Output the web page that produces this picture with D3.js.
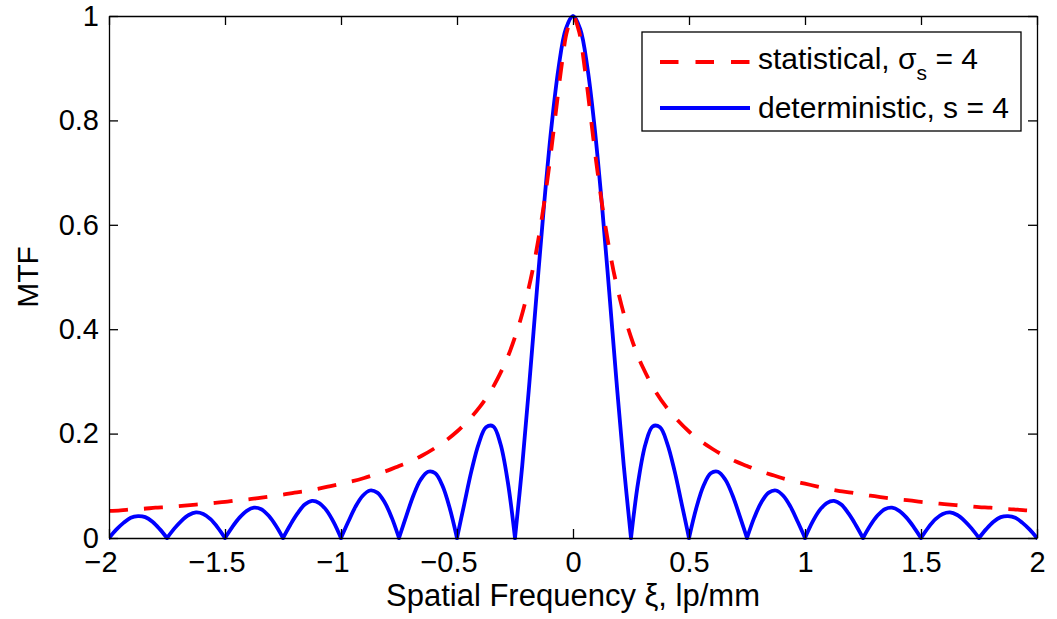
<!DOCTYPE html>
<html>
<head>
<meta charset="utf-8">
<script src="https://cdn.jsdelivr.net/npm/d3@7"></script>
<style>
  html, body { margin: 0; padding: 0; background: #fff; }
  svg { display: block; font-family: "Liberation Sans", Arial, Helvetica, sans-serif; }
</style>
</head>
<body>
<svg id="chart" width="1057" height="619"></svg>
<script>
// ── data ──
const xTicks = [-2, -1.5, -1, -0.5, 0, 0.5, 1, 1.5, 2];
const yTicks = [0, 0.2, 0.4, 0.6, 0.8, 1];

// statistical, sigma_s = 4 (red dashed)
const statXi = [-2,-1.95,-1.9,-1.85,-1.8,-1.75,-1.7,-1.65,-1.6,-1.55,-1.5,-1.45,-1.4,-1.35,-1.3,-1.25,-1.2,-1.15,-1.1,-1.05,
  -1,-0.95,-0.9,-0.85,-0.8,-0.75,-0.7,-0.65,-0.6,-0.55,-0.5,-0.45,-0.4,-0.35,-0.3,-0.275,-0.25,-0.225,-0.2,-0.175,-0.15,-0.125,
  -0.1,-0.075,-0.05,-0.025,0,0.025,0.05,0.075,0.1,0.125,0.15,0.175,0.2,0.225,0.25,0.275,0.3,0.35,0.4,0.45,0.5,0.55,0.6,0.65,
  0.7,0.75,0.8,0.85,0.9,0.95,1,1.05,1.1,1.15,1.2,1.25,1.3,1.35,1.4,1.45,1.5,1.55,1.6,1.65,1.7,1.75,1.8,1.85,1.9,1.95,2];
const statMtf = [0.052,0.053,0.055,0.056,0.058,0.059,0.061,0.063,0.065,0.067,0.069,0.072,0.074,0.077,0.080,0.083,0.087,0.090,0.094,0.099,
  0.104,0.109,0.115,0.122,0.129,0.138,0.147,0.158,0.171,0.186,0.204,0.226,0.252,0.285,0.328,0.354,0.385,0.420,0.462,0.511,0.570,0.640,
  0.721,0.812,0.902,0.972,1,0.972,0.902,0.812,0.721,0.640,0.570,0.511,0.462,0.420,0.385,0.354,0.328,0.285,0.252,0.226,0.204,0.186,0.171,0.158,
  0.147,0.138,0.129,0.122,0.115,0.109,0.104,0.099,0.094,0.090,0.087,0.083,0.080,0.077,0.074,0.072,0.069,0.067,0.065,0.063,0.061,0.059,0.058,0.056,0.055,0.053,0.052];

// deterministic, s = 4 (blue solid)
const detXi = [-2,-1.96875,-1.9375,-1.90625,-1.875,-1.84375,-1.8125,-1.78125,-1.75,-1.71875,-1.6875,-1.65625,-1.625,-1.59375,-1.5625,-1.53125,
  -1.5,-1.46875,-1.4375,-1.40625,-1.375,-1.34375,-1.3125,-1.28125,-1.25,-1.21875,-1.1875,-1.15625,-1.125,-1.09375,-1.0625,-1.03125,
  -1,-0.96875,-0.9375,-0.90625,-0.875,-0.84375,-0.8125,-0.78125,-0.75,-0.71875,-0.6875,-0.65625,-0.625,-0.59375,-0.5625,-0.53125,
  -0.5,-0.46875,-0.4375,-0.40625,-0.375,-0.34375,-0.3125,-0.28125,-0.25,-0.21875,-0.1875,-0.15625,-0.125,-0.09375,-0.0625,-0.03125,
  0,0.03125,0.0625,0.09375,0.125,0.15625,0.1875,0.21875,0.25,0.28125,0.3125,0.34375,0.375,0.40625,0.4375,0.46875,
  0.5,0.53125,0.5625,0.59375,0.625,0.65625,0.6875,0.71875,0.75,0.78125,0.8125,0.84375,0.875,0.90625,0.9375,0.96875,
  1,1.03125,1.0625,1.09375,1.125,1.15625,1.1875,1.21875,1.25,1.28125,1.3125,1.34375,1.375,1.40625,1.4375,1.46875,
  1.5,1.53125,1.5625,1.59375,1.625,1.65625,1.6875,1.71875,1.75,1.78125,1.8125,1.84375,1.875,1.90625,1.9375,1.96875,2];
const detMtf = [0,0.016,0.029,0.039,0.042,0.040,0.031,0.017,
  0,0.018,0.033,0.044,0.049,0.046,0.036,0.020,
  0,0.021,0.039,0.052,0.058,0.055,0.043,0.024,
  0,0.025,0.047,0.064,0.071,0.067,0.053,0.030,
  0,0.031,0.060,0.081,0.091,0.087,0.069,0.039,
  0,0.042,0.082,0.112,0.127,0.124,0.100,0.057,
  0,0.065,0.129,0.181,0.212,0.214,0.180,0.108,
  0,0.139,0.300,0.471,0.637,0.784,0.900,0.975,
  1,
  0.975,0.900,0.784,0.637,0.471,0.300,0.139,0,
  0.108,0.180,0.214,0.212,0.181,0.129,0.065,0,
  0.057,0.100,0.124,0.127,0.112,0.082,0.042,0,
  0.039,0.069,0.087,0.091,0.081,0.060,0.031,0,
  0.030,0.053,0.067,0.071,0.064,0.047,0.025,0,
  0.024,0.043,0.055,0.058,0.052,0.039,0.021,0,
  0.020,0.036,0.046,0.049,0.044,0.033,0.018,0,
  0.017,0.031,0.040,0.042,0.039,0.029,0.016,0];

const RED = "#ff0000", BLUE = "#0000ff";
const LW = 3.8;

// ── layout ──
const svg = d3.select("#chart");
const L = 109, R = 1037, T = 16, B = 538;

const x = d3.scaleLinear().domain([-2, 2]).range([L, R]);
const y = d3.scaleLinear().domain([0, 1]).range([B, T]);

svg.append("clipPath").attr("id", "plotclip")
  .append("rect").attr("x", L).attr("y", T - 4).attr("width", R - L).attr("height", B - T + 8);

const plot = svg.append("g").attr("clip-path", "url(#plotclip)");

// blue: one path per lobe so the zeros stay sharp
const detPts = detXi.map((v, i) => [v, detMtf[i]]);
const lobes = [];
let cur = [];
detPts.forEach(p => {
  cur.push(p);
  if (p[1] === 0 && cur.length > 1) { lobes.push(cur); cur = [p]; }
});
if (cur.length > 1) lobes.push(cur);

const detLine = d3.line().x(d => x(d[0])).y(d => y(d[1])).curve(d3.curveCatmullRom.alpha(0.5));
plot.selectAll(".lobe").data(lobes).join("path")
  .attr("class", "lobe")
  .attr("d", detLine)
  .attr("fill", "none").attr("stroke", BLUE).attr("stroke-width", LW)
  .attr("stroke-linejoin", "round").attr("stroke-linecap", "round");

// red dashed on top
const statLine = d3.line().x((d, i) => x(statXi[i])).y(d => y(d)).curve(d3.curveCatmullRom.alpha(0.5));
plot.append("path")
  .attr("d", statLine(statMtf))
  .attr("fill", "none").attr("stroke", RED).attr("stroke-width", LW)
  .attr("stroke-dasharray", "19,16");

// ── axes (MATLAB box, inward ticks) ──
const fmt = d3.format("");
function styleAxis(g) {
  g.selectAll(".domain").attr("stroke", "#000").attr("stroke-width", 1.3);
  g.selectAll(".tick line").attr("stroke", "#000").attr("stroke-width", 1.3);
  g.selectAll("text").attr("fill", "#000").attr("font-size", 29)
    .attr("font-family", "'Liberation Sans', Arial, sans-serif");
}
const xAx = svg.append("g").attr("transform", `translate(0,${B})`)
  .call(d3.axisBottom(x).tickValues(xTicks).tickFormat(fmt).tickSizeInner(-9).tickSizeOuter(0).tickPadding(13))
  .call(styleAxis);
// MATLAB centres the number, the minus sign hangs to the left
xAx.selectAll(".tick text").attr("dx", d => d < 0 ? "-0.292em" : 0);

svg.append("g").attr("transform", `translate(0,${T})`)
  .call(d3.axisTop(x).tickValues(xTicks).tickFormat("").tickSizeInner(-9).tickSizeOuter(0))
  .call(styleAxis);
svg.append("g").attr("transform", `translate(${L},0)`)
  .call(d3.axisLeft(y).tickValues(yTicks).tickFormat(fmt).tickSizeInner(-9).tickSizeOuter(0).tickPadding(10))
  .call(styleAxis);
svg.append("g").attr("transform", `translate(${R},0)`)
  .call(d3.axisRight(y).tickValues(yTicks).tickFormat("").tickSizeInner(-9).tickSizeOuter(0))
  .call(styleAxis);

// axis labels
svg.append("text")
  .attr("x", (L + R) / 2).attr("y", 606)
  .attr("text-anchor", "middle").attr("font-size", 31).attr("fill", "#000")
  .text("Spatial Frequency \u03be, lp/mm");
svg.append("text")
  .attr("transform", `translate(38,${(T + B) / 2}) rotate(-90)`)
  .attr("text-anchor", "middle").attr("font-size", 30).attr("fill", "#000")
  .text("MTF");

// ── legend ──
const lg = svg.append("g");
lg.append("rect").attr("x", 642).attr("y", 32).attr("width", 379).attr("height", 99)
  .attr("fill", "#fff").attr("stroke", "#000").attr("stroke-width", 1.3);
lg.append("line").attr("x1", 660).attr("x2", 750).attr("y1", 62).attr("y2", 62)
  .attr("stroke", RED).attr("stroke-width", LW).attr("stroke-dasharray", "18.5,17");
lg.append("line").attr("x1", 660).attr("x2", 750).attr("y1", 108).attr("y2", 108)
  .attr("stroke", BLUE).attr("stroke-width", LW);

const t1 = lg.append("text").attr("x", 758).attr("y", 69).attr("font-size", 30).attr("fill", "#000");
t1.append("tspan").text("statistical, \u03c3");
t1.append("tspan").attr("font-size", 21).attr("dy", 11).text("s");
t1.append("tspan").attr("dy", -11).text(" = 4");
lg.append("text").attr("x", 758).attr("y", 118).attr("font-size", 30).attr("fill", "#000")
  .text("deterministic, s = 4");
</script>
</body>
</html>
